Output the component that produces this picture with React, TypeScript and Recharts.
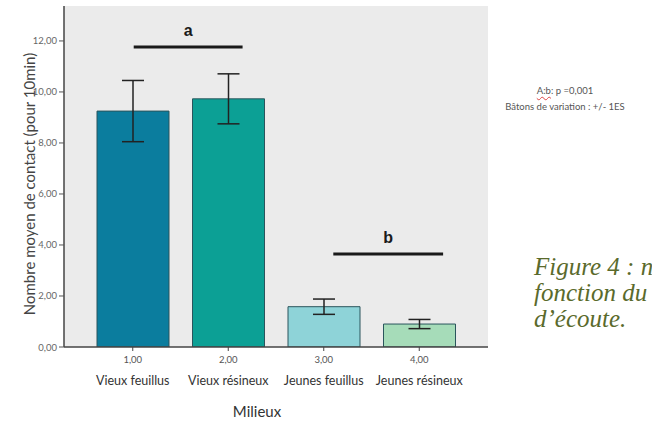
import React from "react";
import {
  BarChart,
  Bar,
  Cell,
  XAxis,
  YAxis,
  CartesianGrid,
  ErrorBar,
  ReferenceLine,
} from "recharts";

// Mean contacts per 10 min by habitat, with +/- 1 SE
const milieux = ["Vieux feuillus", "Vieux résineux", "Jeunes feuillus", "Jeunes résineux"];
const codes = ["1,00", "2,00", "3,00", "4,00"];
const moyennes = [9.25, 9.73, 1.58, 0.9];
const erreurs = [1.2, 0.98, 0.3, 0.18];
const couleurs = ["#0b7d9e", "#0ca095", "#8ed3d8", "#a6dcb9"];
const yTicks = [0, 2, 4, 6, 8, 10, 12];

// significance groups: label, x range on the position axis, height in y units
const groupes = [
  { label: "a", from: 1.01, to: 2.15, y: 11.76 },
  { label: "b", from: 3.1, to: 4.25, y: 3.65 },
];

const data = milieux.map((name, i) => ({
  name,
  pos: i + 1,
  moyenne: moyennes[i],
  se: erreurs[i],
}));

const fmt = (v: number) => v.toFixed(2).replace(".", ",");

const FONT = "Lato, 'Open Sans', sans-serif";

function CategoryTick(props: any) {
  const { x, y, payload, index } = props;
  return (
    <g>
      <text x={x} y={y + 10} textAnchor="middle" fontSize={9.5} fill="#555" fontFamily={FONT}>
        {codes[index] ?? ""}
      </text>
      <text x={x} y={y + 32} textAnchor="middle" fontSize={12.5} fill="#333" fontFamily={FONT}>
        {payload.value}
      </text>
    </g>
  );
}

function YTick(props: any) {
  const { x, y, payload } = props;
  return (
    <text x={x} y={y} dy={3.5} textAnchor="end" fontSize={9.5} fill="#666" fontFamily={FONT}>
      {fmt(payload.value)}
    </text>
  );
}

export default function App() {
  return (
    <div
      style={{
        position: "relative",
        width: 652,
        height: 421,
        overflow: "hidden",
        background: "#fff",
      }}
    >
      <style>{"body{margin:0}"}</style>
      <BarChart
        width={652}
        height={421}
        data={data}
        margin={{ top: 6, right: 164, bottom: 0, left: 0 }}
      >
        <CartesianGrid horizontal={false} vertical={false} fill="#ebebeb" />
        <XAxis
          dataKey="name"
          padding={{ left: 21, right: 21 }}
          tick={<CategoryTick />}
          tickSize={4}
          tickLine={{ stroke: "#444" }}
          axisLine={{ stroke: "#444", strokeWidth: 1.5 }}
          interval={0}
          height={74}
          label={{
            value: "Milieux",
            position: "insideBottom",
            offset: 4,
            dx: -19,
            fontSize: 15,
            fill: "#333",
            fontFamily: FONT,
          }}
        />
        <XAxis
          xAxisId="pos"
          dataKey="pos"
          type="number"
          orientation="top"
          domain={[0.28, 4.72]}
          allowDataOverflow
          height={0}
          tick={false}
          tickLine={false}
          axisLine={{ stroke: "#666", strokeWidth: 1.5 }}
        />
        <YAxis
          domain={[0, 13.37]}
          ticks={yTicks}
          allowDataOverflow
          width={64}
          tick={<YTick />}
          tickSize={5}
          tickLine={{ stroke: "#555" }}
          axisLine={{ stroke: "#444", strokeWidth: 1.5 }}
          label={{
            content: () => (
              <text
                x={29}
                y={184}
                transform="rotate(-90, 29, 184)"
                textAnchor="middle"
                dominantBaseline="central"
                fontSize={15}
                fill="#444"
                fontFamily={FONT}
              >
                Nombre moyen de contact (pour 10min)
              </text>
            ),
          }}
        />
        <YAxis
          yAxisId="right"
          orientation="right"
          domain={[0, 13.37]}
          width={0}
          tick={false}
          tickLine={false}
          axisLine={{ stroke: "#666", strokeWidth: 1.5 }}
        />
        <Bar
          dataKey="moyenne"
          barSize={72}
          stroke="#2a555c"
          strokeWidth={1}
          isAnimationActive={false}
        >
          {data.map((d, i) => (
            <Cell key={d.name} fill={couleurs[i]} />
          ))}
          <ErrorBar
            dataKey="se"
            width={11}
            stroke="#222"
            strokeWidth={1.5}
            direction="y"
            isAnimationActive={false}
          />
        </Bar>
        {groupes.map((g) => (
          <ReferenceLine
            key={g.label}
            xAxisId="pos"
            segment={[
              { x: g.from, y: g.y },
              { x: g.to, y: g.y },
            ]}
            ifOverflow="visible"
            stroke="#1a1a1a"
            strokeWidth={3}
            label={{
              value: g.label,
              position: "top",
              offset: 11,
              fontSize: 16,
              fontWeight: "bold",
              fill: "#1a1a1a",
              fontFamily: "Arial, 'Liberation Sans', sans-serif",
            }}
          />
        ))}
      </BarChart>

      <div
        style={{
          position: "absolute",
          left: 470,
          width: 190,
          top: 83,
          textAlign: "center",
          fontFamily: FONT,
          fontSize: 9.5,
          color: "#555",
          lineHeight: "16px",
        }}
      >
        <div>
          <span style={{ textDecoration: "underline wavy #d44", textUnderlineOffset: 2 }}>
            A:b
          </span>
          : p =0,001
        </div>
        <div>Bâtons de variation : +/- 1ES</div>
      </div>

      <div
        style={{
          position: "absolute",
          left: 534,
          top: 254,
          whiteSpace: "nowrap",
          fontFamily: "'Liberation Serif', 'DejaVu Serif', serif",
          fontStyle: "italic",
          fontSize: 25,
          lineHeight: "26px",
          color: "#5a6a2c",
        }}
      >
        <div>Figure 4 : n</div>
        <div>fonction du</div>
        <div>d’écoute.</div>
      </div>
    </div>
  );
}
